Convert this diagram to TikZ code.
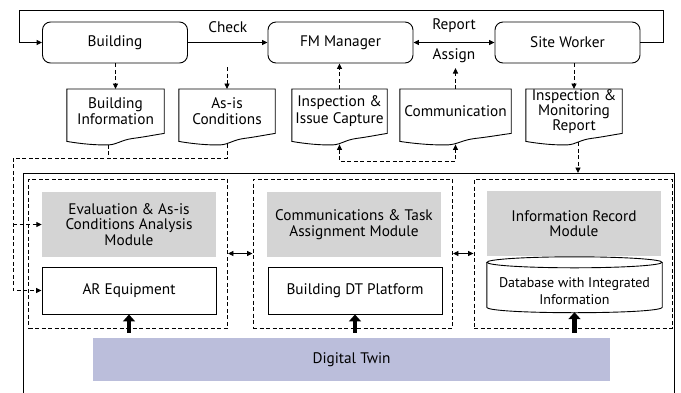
\documentclass[tikz,border=0pt]{standalone}
\usepackage{fontspec}
\setmainfont{PT Sans}
\usetikzlibrary{arrows.meta,calc}
\definecolor{gboxc}{RGB}{212,212,212}
\definecolor{dtc}{RGB}{187,190,219}
\newcommand\docshape[1]{%
\draw[line width=0.9pt] (#1.north west) -- ($(#1.south west)+(0,8)$)
 .. controls ($(#1.south west)!0.15!(#1.south east)+(0,10.5)$) and ($(#1.south west)!0.3!(#1.south east)+(0,11.8)$) .. ($(#1.south west)!0.43!(#1.south east)+(0,11.5)$)
 .. controls ($(#1.south west)!0.52!(#1.south east)+(0,11)$) and ($(#1.south west)!0.56!(#1.south east)+(0,6.5)$) .. ($(#1.south west)!0.68!(#1.south east)+(0,5)$)
 .. controls ($(#1.south west)!0.8!(#1.south east)+(0,3.5)$) and ($(#1.south west)!0.9!(#1.south east)+(0,1.5)$) .. (#1.south east)
 -- (#1.north east) -- cycle;}
\begin{document}
\begin{tikzpicture}[x=1pt,y=-1pt,
  every node/.style={font=\fontsize{15.3}{15.5}\selectfont, inner sep=0pt, align=center},
  proc/.style={draw, line width=0.9pt, rounded corners=8pt, minimum width=145pt, minimum height=41pt},
  docbox/.style={minimum height=44pt, anchor=north, font=\fontsize{15.3}{16.5}\selectfont},
  modbox/.style={draw, line width=0.9pt, dash pattern=on 4pt off 2.5pt, minimum height=149pt},
  graybox/.style={fill=gboxc, minimum width=174pt, minimum height=65pt},
  whitebox/.style={draw, line width=0.9pt, minimum width=174pt, minimum height=47pt},
  arr/.style={line width=0.9pt, -{Triangle[length=5.5pt,width=5pt]}},
  biarr/.style={line width=0.9pt, {Triangle[length=5.5pt,width=5pt]}-{Triangle[length=5.5pt,width=5pt]}},
  darr/.style={line width=0.9pt, dash pattern=on 4pt off 2.5pt, -{Triangle[length=5.5pt,width=5pt]}},
  dline/.style={line width=0.9pt, dash pattern=on 4pt off 2.5pt},
  bigarr/.style={line width=4.5pt, -{Triangle[length=7pt,width=12pt]}}
]
\useasboundingbox (0,0) rectangle (681,392);

% top process nodes
\node[proc] (b)  at (115,42.5)   {Building};
\node[proc] (fm) at (340.5,42.5) {FM Manager};
\node[proc] (sw) at (567.5,42.5) {Site Worker};

% documents
\node[docbox, minimum width=97pt] (bi) at (115.5,89) {Building\\Information};
\node[docbox, minimum width=96pt] (ai) at (227,89) {As-is\\Conditions};
\node[docbox, minimum width=95pt] (ic) at (339.5,89) {Inspection \&\\Issue Capture};
\node[docbox, minimum width=111pt] (cm) at (455.5,89) {Communication};
\node[docbox, minimum width=96pt, font=\fontsize{15.3}{13.5}\selectfont] (mr) at (574,89) {Inspection \&\\Monitoring\\Report};
\docshape{bi}\docshape{ai}\docshape{ic}\docshape{cm}\docshape{mr}

% outer frame and modules
\node[draw, line width=1pt, anchor=north west, minimum width=651pt, minimum height=250pt] (outer) at (23,173) {};
\node[modbox, minimum width=199pt] (m1) at (128,253.5) {};
\node[modbox, minimum width=199.5pt] (m2) at (352.75,253.5) {};
\node[modbox, minimum width=198pt] (m3) at (573,253.5) {};

\node[graybox] (g1) at (129,224.5) {Evaluation \& As-is\\Conditions Analysis\\Module};
\node[graybox] (g2) at (354,224.5) {Communications \& Task\\Assignment Module};
\node[graybox] (g3) at (574,223.5) {Information Record\\Module};

\node[whitebox] (ar) at (129,290.5) {AR Equipment};
\node[whitebox] (dp) at (355,290.5) {Building DT Platform};
\node[minimum width=175pt, minimum height=42pt, font=\fontsize{14}{16.5}\selectfont] (db) at (574.5,291) {Database with Integrated\\Information};
\draw[line width=0.9pt] ($(db.north west)+(0,-7.5)$) -- ($(db.south west)+(0,-5)$)
  .. controls ($(db.south west)+(0,2.33)$) and ($(db.south east)+(0,2.33)$) .. ($(db.south east)+(0,-5)$)
  -- ($(db.north east)+(0,-7.5)$);
\draw[line width=0.9pt] ($(db.north)+(0,-7.5)$) ellipse [x radius=87.5pt, y radius=5.5pt];

\node[fill=dtc, minimum width=517pt, minimum height=43pt] (dt) at (351.5,359.5) {Digital Twin};

% top connectors
\coordinate (loopR) at (663,10);
\coordinate (loopL) at (19,10);
\draw[arr] (sw.east) -| (loopR) -- (loopL) |- (b.west);
\draw[arr] (b.east) -- node[yshift=15.5pt] {Check} (fm.west);
\draw[biarr] (fm.east) -- node[yshift=17pt] {Report} node[yshift=-13.5pt] {Assign} (sw.west);

\coordinate (aiTop) at (227,67);
\coordinate (cmTop) at (455.5,68);
\draw[darr] (b.south -| bi.north) -- (bi.north);
\draw[darr] (aiTop) -- (ai.north);
\draw[darr] (ic.north) -- (ic.north |- fm.south);
\draw[darr] (cm.north) -- (cmTop);
\draw[darr] (mr.north |- sw.south) -- (mr.north);

% lower connectors
\coordinate (bib) at ($(bi.south west)!0.43!(bi.south east)+(0,11.5)$);
\coordinate (aib) at ($(ai.south)+(0,11)$);
\coordinate (icb) at ($(ic.south)+(0,11)$);
\coordinate (cmb) at ($(cm.south)+(0,11)$);
\coordinate (mrb) at ($(mr.south)+(4,9)$);
\coordinate (lc) at (13,158);
\draw[darr] (aib) |- (lc) |- (ar.west);
\draw[dline] (bib) -- (bib |- lc);
\draw[darr] (lc |- g1.west) -- (g1.west);
\coordinate (icLow) at ($(icb)+(0,17)$);
\draw[dline, {Triangle[length=5.5pt,width=5pt]}-{Triangle[length=5.5pt,width=5pt]}] (icb) -- (icLow) -| (cmb);
\draw[darr] (mrb) -- (mrb |- outer.north);

\draw[biarr] (m1.east) -- (m2.west);
\draw[biarr] (m2.east) -- (m3.west);

\draw[bigarr] ($(ar.south |- dt.north)+(0,-5)$) -- (ar.south);
\draw[bigarr] ($(dp.south |- dt.north)+(0,-5)$) -- (dp.south);
\draw[bigarr] ($(db.south |- dt.north)+(0,-5)$) -- (db.south);
\end{tikzpicture}
\end{document}
